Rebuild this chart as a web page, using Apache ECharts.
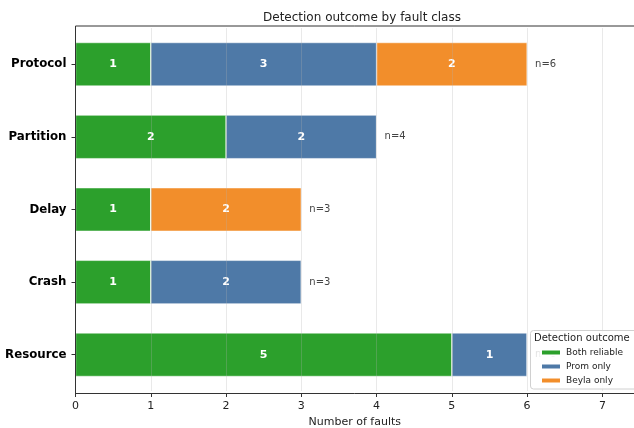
<!DOCTYPE html>
<html><head><meta charset="utf-8">
<script src="https://cdn.jsdelivr.net/npm/echarts@6/dist/echarts.min.js"></script>
<style>html,body{margin:0;padding:0;background:#fff}#c{width:634px;height:428px}</style>
</head><body><div id="c"></div>
<script>
const categories = ['Resource', 'Crash', 'Delay', 'Partition', 'Protocol'];
const bothReliable = [5, 1, 1, 2, 1];
const promOnly = [1, 2, 0, 2, 3];
const beylaOnly = [0, 0, 2, 0, 2];
const totals = categories.map((_, i) => bothReliable[i] + promOnly[i] + beylaOnly[i]);
const xTicks = [0, 1, 2, 3, 4, 5, 6, 7];

const font = 'DejaVu Sans';
const segLabel = {show: true, position: 'inside', color: '#fff', fontWeight: 'bold', fontSize: 11, fontFamily: font,
  formatter: p => p.value ? String(p.value) : ''};
const mk = (name, data, color) => ({
  name, type: 'bar', stack: 'a', data, barWidth: '60%',
  itemStyle: {color, borderColor: '#fff', borderWidth: 0.5},
  label: segLabel
});
const chart = echarts.init(document.getElementById('c'));
chart.setOption({
  animation: false,
  title: {text: 'Detection outcome by fault class', left: 357, top: 7, textAlign: 'center',
    textStyle: {fontFamily: font, fontSize: 12, fontWeight: 'normal', color: '#222'}},
  grid: {left: 75.5, right: 0, top: 28, bottom: 37, containLabel: false, outerBoundsMode: 'none'},
  xAxis: {type: 'value', min: 0, max: 7.42, interval: 1, offset: 2, z: 3,
    name: 'Number of faults', nameLocation: 'middle', nameGap: 23,
    nameTextStyle: {fontFamily: font, fontSize: 11, color: '#222'},
    axisLine: {show: true, lineStyle: {color: '#333', width: 1}},
    axisTick: {show: true, length: 4, lineStyle: {color: '#333'}},
    axisLabel: {fontFamily: font, fontSize: 11, color: '#222', margin: 8,
      formatter: v => xTicks.includes(v) ? String(v) : ''},
    splitLine: {show: true, lineStyle: {color: 'rgba(176,176,176,0.28)', width: 1}}},
  yAxis: {type: 'category', data: categories,
    axisLine: {show: false},
    axisTick: {show: true, length: 4, alignWithLabel: true, lineStyle: {color: '#333'}},
    axisLabel: {fontFamily: font, fontSize: 11.8, fontWeight: 'bold', color: '#000', margin: 9},
    splitLine: {show: false}},
  legend: {show: true, orient: 'vertical', left: 540, top: 348, itemGap: 5, padding: 0,
    itemWidth: 20, itemHeight: 6, icon: 'rect', z: 20,
    data: ['Both reliable', 'Prom only', 'Beyla only'],
    textStyle: {fontFamily: font, fontSize: 9, color: '#222'}},
  graphic: [
    {type: 'line', z: 5, shape: {x1: 75.5, y1: 26, x2: 634, y2: 26}, style: {stroke: '#333', lineWidth: 1}},
    {type: 'line', z: 5, shape: {x1: 75.5, y1: 26, x2: 75.5, y2: 393}, style: {stroke: '#333', lineWidth: 1}},
    {type: 'rect', z: 15, shape: {x: 530.5, y: 330.5, width: 110, height: 58.5, r: 3},
      style: {fill: 'rgba(255,255,255,0.85)', stroke: '#d0d0d0', lineWidth: 1}},
    {type: 'text', z: 16, left: 534, top: 333, style: {text: 'Detection outcome', font: '10px "DejaVu Sans"', fill: '#222'}}
  ],
  series: [
    mk('Both reliable', bothReliable, '#2ca02c'),
    mk('Prom only', promOnly, '#4e79a7'),
    mk('Beyla only', beylaOnly, '#f28e2b'),
    {name: 'n', type: 'bar', stack: 'a', data: totals.map(() => 0), barWidth: '60%',
      itemStyle: {color: 'transparent'}, z: 1,
      label: {show: true, position: 'right', distance: 8, color: '#444', fontSize: 10, fontFamily: font,
        formatter: p => 'n=' + totals[p.dataIndex]}}
  ]
});
</script></body></html>
